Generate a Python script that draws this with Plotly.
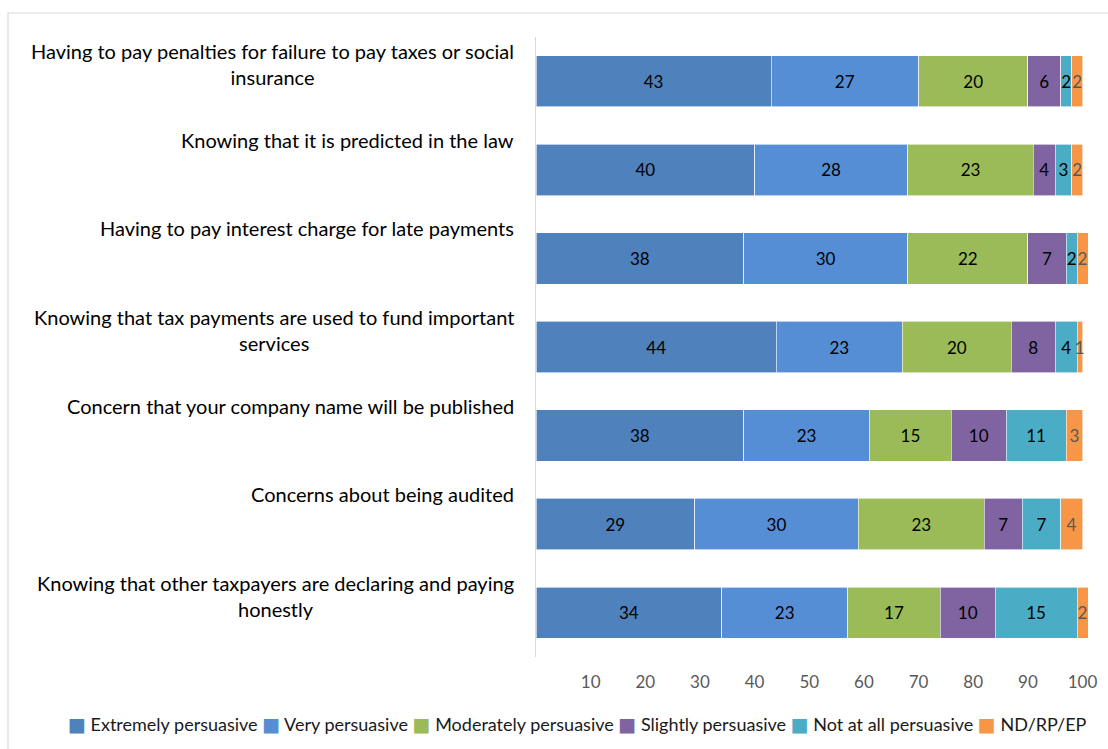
import plotly.graph_objects as go

# Survey items (top to bottom)
categories = [
    "Having to pay penalties for failure to pay taxes or social<br>insurance",
    "Knowing that it is predicted in the law",
    "Having to pay interest charge for late payments",
    "Knowing that tax payments are used to fund important<br>services",
    "Concern that your company name will be published",
    "Concerns about being audited",
    "Knowing that other taxpayers are declaring and paying<br>honestly",
]

series_names = [
    "Extremely persuasive",
    "Very persuasive",
    "Moderately persuasive",
    "Slightly persuasive",
    "Not at all persuasive",
    "ND/RP/EP",
]

extremely = [43, 40, 38, 44, 38, 29, 34]
very = [27, 28, 30, 23, 23, 30, 23]
moderately = [20, 23, 22, 20, 15, 23, 17]
slightly = [6, 4, 7, 8, 10, 7, 10]
not_at_all = [2, 3, 2, 4, 11, 7, 15]
nd_rp_ep = [2, 2, 2, 1, 3, 4, 2]

tick_values = [10, 20, 30, 40, 50, 60, 70, 80, 90, 100]

colors = ["#4F81BD", "#558ED5", "#9BBB59", "#8064A2", "#4BACC6", "#F79646"]
text_colors = ["#000000", "#000000", "#000000", "#000000", "#000000", "#595959"]

all_series = [extremely, very, moderately, slightly, not_at_all, nd_rp_ep]
ids = list(range(len(categories)))

font_family = "Lato, 'Open Sans', sans-serif"

fig = go.Figure()
for name, vals, col, tcol in zip(series_names, all_series, colors, text_colors):
    fig.add_trace(go.Bar(
        y=ids,
        x=vals,
        name=name,
        orientation="h",
        marker=dict(color=col, line=dict(color="#FFFFFF", width=0.6)),
        text=[str(v) for v in vals],
        textposition="inside",
        insidetextanchor="middle",
        textangle=0,
        textfont=dict(color=tcol, size=17, family=font_family),
        cliponaxis=False,
        hoverinfo="x+name",
        showlegend=False,
    ))

# Category labels, right-aligned beside the axis
for i, cat in enumerate(categories):
    fig.add_annotation(
        x=-0.0366, xref="paper", y=i, yref="y",
        text=cat, showarrow=False,
        xanchor="right", yanchor="top", align="center",
        yshift=44,
        font=dict(size=20, color="#000000", family=font_family),
    )

# Single-line legend along the bottom of the chart
legend_text = " ".join(
    f"<span style='color:{c};font-size:19px;font-family:DejaVu Sans'>■</span> {n}"
    for n, c in zip(series_names, colors)
)
fig.add_annotation(
    x=0.0743, xref="paper", y=-0.108, yref="paper",
    text=legend_text, showarrow=False,
    xanchor="center", yanchor="middle",
    font=dict(size=18, color="#1A1A1A", family=font_family),
)

# Outer chart frame
fig.add_shape(type="rect", xref="paper", yref="paper",
              x0=-0.9565, x1=1.1, y0=1.0387, y1=-0.2,
              line=dict(color="#D9D9D9", width=1.2), fillcolor="rgba(0,0,0,0)",
              layer="below")

fig.update_layout(
    barmode="stack",
    bargap=0.42,
    width=1108, height=749,
    margin=dict(l=536, r=20, t=37, b=92),
    plot_bgcolor="#FFFFFF",
    paper_bgcolor="#FFFFFF",
    font=dict(family=font_family, size=15, color="#000000"),
    uniformtext=dict(minsize=17, mode="show"),
    showlegend=False,
    xaxis=dict(
        range=[0, 101],
        tickvals=tick_values,
        ticktext=[str(t) for t in tick_values],
        showgrid=False,
        zeroline=False,
        showline=False,
        ticks="",
        tickfont=dict(size=17, color="#595959", family=font_family),
        ticklabelstandoff=13,
    ),
    yaxis=dict(
        range=[6.5, -0.5],
        showticklabels=False,
        showgrid=False,
        zeroline=False,
        showline=True,
        linecolor="#D9D9D9",
        linewidth=1,
        ticks="",
    ),
)

fig.write_html("out.html")
